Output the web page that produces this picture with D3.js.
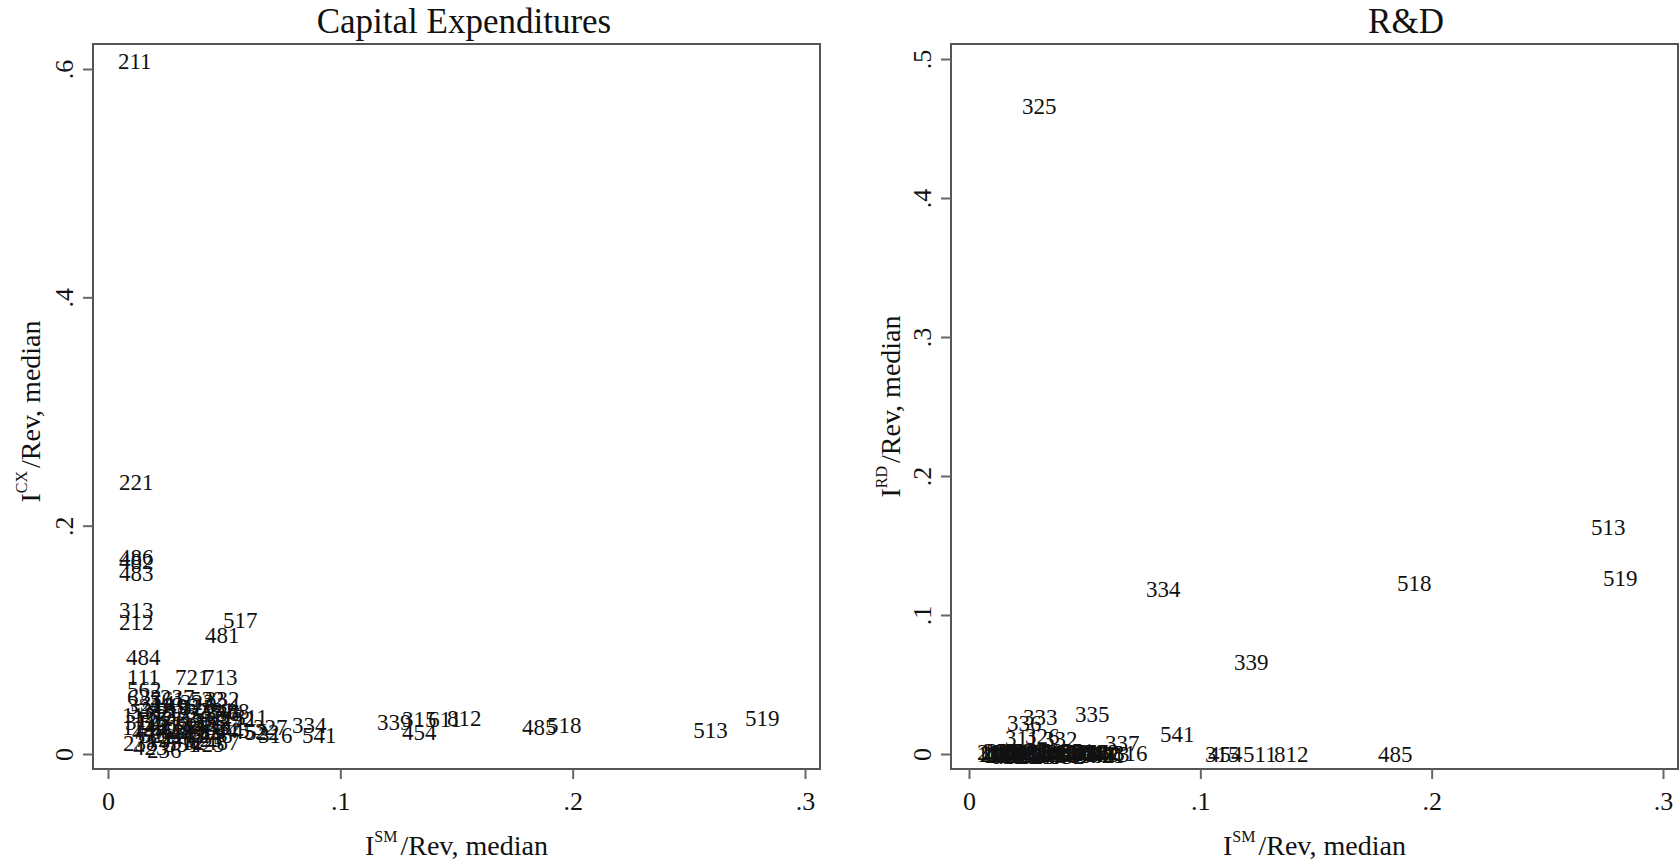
<!DOCTYPE html>
<html>
<head>
<meta charset="utf-8">
<script src="https://cdn.jsdelivr.net/npm/d3@7"></script>
<style>
  body { margin: 0; background: #fff; }
  svg { display: block; }
  text { font-family: "Liberation Serif", "Times New Roman", serif; fill: #111; }
</style>
</head>
<body>
<svg id="chart" width="1679" height="865"></svg>
<script>
// left panel: capital expenditures (industry code, I^SM/Rev median, I^CX/Rev median)
let cxCodes = ["211","221","486","482","483","313","212","517","481","484","111","721","713","562","622","237","532","324","113","325","331","336","488","112","115","321","322","333","335","337","114","447","441","442","443","444","445","448","452","453","522","511","512","515","521","523","524","531","533","551","561","621","623","624","711","712","722","811","813","332","312","314","323","424","425","492","493","487","311","327","316","334","541","339","315","454","611","812","485","518","513","519","236","238","423","446"]
let cxSM = [.0030,.0034,.0034,.0034,.0034,.0034,.0034,.0482,.0405,.0065,.0069,.0276,.0396,.0069,.0069,.0211,.0340,.0069,.0168,.0297,.0383,.0405,.0448,.0047,.0103,.0168,.0232,.0288,.0349,.0418,.0047,.0090,.0146,.0202,.0254,.0310,.0448,.0375,.0521,.0168,.0577,.0125,.0254,.0189,.0125,.0319,.0276,.0082,.0362,.0232,.0168,.0146,.0331,.0405,.0211,.0103,.0276,.0383,.0340,.0405,.0060,.0125,.0297,.0189,.0340,.0469,.0232,.0405,.0530,.0611,.0633,.0779,.0822,.1145,.1253,.1253,.1365,.1446,.1769,.1877,.2506,.2729,.0155,.0052,.0095,.0211]
let cxRatio = [.607,.2374,.1717,.169,.1585,.1253,.1156,.1165,.1042,.0841,.0674,.0666,.0674,.0569,.0491,.0499,.0473,.0420,.0429,.0403,.0377,.0359,.0368,.0333,.0298,.0315,.0333,.0298,.0280,.0263,.0228,.0184,.0245,.0210,.0175,.0228,.0210,.0158,.0201,.0193,.0184,.0280,.0105,.0385,.0166,.0368,.0245,.0368,.0228,.0079,.0473,.0359,.0123,.0429,.0263,.0123,.0166,.0315,.0193,.0473,.0280,.0438,.0447,.0210,.0079,.0298,.0420,.0105,.0324,.0228,.0166,.0254,.0158,.0280,.0298,.0184,.0298,.0315,.0228,.0254,.0210,.0307,.0035,.0088,.0061,.0123]

// right panel: R&D
let rdCodes = ["325","334","513","518","519","339","541","335","333","336","311","326","332","337","316","485","315","454","511","812","111","112","113","114","115","211","212","213","221","236","237","238","312","313","314","321","322","323","324","327","331","423","424","441","442","443","444","445","446","447","448","452","481","482","483","484","486","488","492","512","517","521","522","523","531","532","551","561","562","611","621","713","721","722","811"]
let rdSM = [.0216,.0752,.2676,.1837,.2728,.1133,.0813,.0445,.0220,.0151,.0143,.0229,.0307,.0575,.0610,.1755,.1007,.1020,.1172,.1306,.0022,.0035,.0048,.0061,.0078,.0022,.0035,.0048,.0061,.0091,.0104,.0121,.0138,.0156,.0173,.0190,.0208,.0229,.0251,.0272,.0294,.0316,.0337,.0359,.0380,.0402,.0424,.0445,.0467,.0489,.0510,.0091,.0121,.0156,.0190,.0229,.0272,.0316,.0359,.0445,.0251,.0104,.0173,.0208,.0294,.0337,.0380,.0424,.0467,.0078,.0138,.0532,.0510,.0489,.0061]
let rdRatio = [.4655,.118,.1626,.123,.1266,.0655,.0137,.0281,.0266,.0223,.0115,.0129,.0101,.0079,.0007,-.0007,-.0007,-.0007,-.0007,-.0007,0,.001,-.001,.0005,0,.001,-.0005,.0015,-.001,.001,0,-.0005,.0015,0,-.001,.0005,.001,-.0005,0,.001,-.0005,0,.0005,-.001,.0005,0,-.0005,.001,0,-.001,.0005,-.0015,.0012,-.0012,.0012,-.0012,.0008,-.001,.001,.0008,-.0015,.0018,.0018,-.0018,.0015,-.0015,.0015,.0012,-.0012,-.0018,-.0015,0,-.0012,.0012,.0018]

let xTicks = [0, .1, .2, .3]
let cxTicks = [0, .2, .4, .6]
let rdTicks = [0, .1, .2, .3, .4, .5]

let svg = d3.select('#chart')
let fmt = (d) => d === 0 ? "0" : d3.format(".1f")(d).replace(/^0/, "")

let makePanel = (opts) => {
    let x = d3.scaleLinear().domain([0, .3]).range([opts.x0, opts.x3])
    let y = d3.scaleLinear().domain([0, opts.yMax]).range([754, opts.yTop])
    let g = svg.append("g")

    // frame
    g.append("rect")
        .attr("x", opts.left).attr("y", 44)
        .attr("width", opts.right - opts.left).attr("height", 769 - 44)
        .attr("fill", "none").attr("stroke", "#555").attr("stroke-width", 2)

    // y axis
    let ya = g.append("g")
        .attr("transform", "translate(" + opts.left + ",0)")
        .call(d3.axisLeft(y).tickValues(opts.yTicks).tickFormat(fmt).tickSize(10))
    ya.select(".domain").remove()
    ya.selectAll("line").attr("stroke", "#666").attr("stroke-width", 2)
    ya.selectAll("text")
        .attr("transform", "rotate(-90)")
        .attr("x", 0).attr("y", -20).attr("dy", 0)
        .attr("text-anchor", "middle")
        .style("font-size", "26px")

    // x axis
    let xa = g.append("g")
        .attr("transform", "translate(0,769)")
        .call(d3.axisBottom(x).tickValues(xTicks).tickFormat(fmt).tickSize(10))
    xa.select(".domain").remove()
    xa.selectAll("line").attr("stroke", "#666").attr("stroke-width", 2)
    xa.selectAll("text").attr("y", 41).attr("dy", 0).style("font-size", "26px")

    // labels as markers
    g.selectAll(".lab")
        .data(opts.codes)
        .enter().append("text")
            .attr("class", "lab")
            .attr("x", (d, i) => x(opts.xs[i]) + 3)
            .attr("y", (d, i) => y(opts.ys[i]))
            .attr("dominant-baseline", "central")
            .style("font-size", "23px")
            .text(d => d)

    // title
    let cx = (opts.left + opts.right) / 2
    g.append("text")
        .attr("x", opts.titleX).attr("y", 33)
        .attr("text-anchor", "middle")
        .style("font-size", "35px")
        .text(opts.title)

    // x axis title
    let xt = g.append("text")
        .attr("x", cx).attr("y", 855)
        .attr("text-anchor", "middle")
        .style("font-size", "28px")
    xt.append("tspan").text("I")
    xt.append("tspan").attr("dy", -13).style("font-size", "16px").text("SM")
    xt.append("tspan").attr("dy", 13).attr("dx", 3).text("/Rev, median")

    // y axis title
    let yt = g.append("text")
        .attr("transform", "translate(" + opts.ytX + "," + ((754 + opts.yTop) / 2) + ") rotate(-90)")
        .attr("text-anchor", "middle")
        .style("font-size", "28px")
    yt.append("tspan").text("I")
    yt.append("tspan").attr("dy", -13).style("font-size", "16px").text(opts.sup)
    yt.append("tspan").attr("dy", 13).attr("dx", 3).text("/Rev, median")
}

makePanel({left: 93, right: 820, x0: 108, x3: 805, yMax: .6, yTop: 69, yTicks: cxTicks,
    codes: cxCodes, xs: cxSM, ys: cxRatio, title: "Capital Expenditures", titleX: 464, sup: "CX", ytX: 40})
makePanel({left: 951, right: 1678, x0: 969, x3: 1663, yMax: .5, yTop: 59, yTicks: rdTicks,
    codes: rdCodes, xs: rdSM, ys: rdRatio, title: "R&D", titleX: 1406, sup: "RD", ytX: 900})
</script>
</body>
</html>
